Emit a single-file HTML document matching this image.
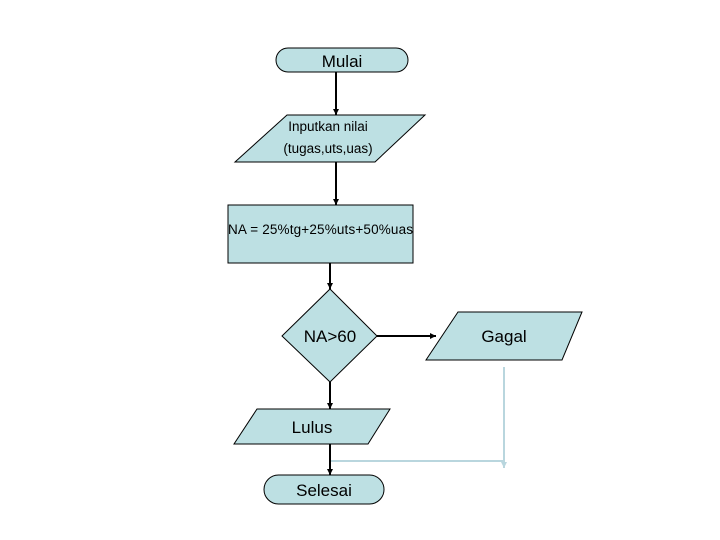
<!DOCTYPE html>
<html><head><style>body{margin:0;background:#fff}svg{display:block}</style></head><body>
<svg width="720" height="540" xmlns="http://www.w3.org/2000/svg" font-family="Liberation Sans, sans-serif">
<defs><marker id="a" markerWidth="8" markerHeight="8" refX="6" refY="3" orient="auto" markerUnits="userSpaceOnUse"><path d="M0,0 L6,3 L0,6z" fill="#000"/></marker>
<marker id="b" markerWidth="8" markerHeight="8" refX="6" refY="3" orient="auto" markerUnits="userSpaceOnUse"><path d="M0,0 L6,3 L0,6z" fill="#b9d6de"/></marker></defs>
<g fill="#bde0e3" stroke="#000" stroke-width="1">
<rect x="276" y="48" width="132" height="24" rx="12"/>
<polygon points="287,115 425,115 375,162 235,162"/>
<rect x="228" y="205" width="185" height="58"/>
<polygon points="330,289 377,336 330,382 282,336"/>
<polygon points="458,312 582,312 562,360 426,360"/>
<polygon points="257,409 390,409 368,444 234,444"/>
<rect x="264" y="475" width="120" height="29" rx="14.5"/>
</g>
<g stroke="#000" stroke-width="2" fill="none">
<line x1="336" y1="72" x2="336" y2="115" marker-end="url(#a)"/>
<line x1="336" y1="162" x2="336" y2="205" marker-end="url(#a)"/>
<line x1="330" y1="263" x2="330" y2="289" marker-end="url(#a)"/>
<line x1="377" y1="336" x2="436" y2="336" marker-end="url(#a)"/>
<line x1="330" y1="382" x2="330" y2="409" marker-end="url(#a)"/>
<line x1="330" y1="444" x2="330" y2="475" marker-end="url(#a)"/>
</g>
<g stroke="#b9d6de" stroke-width="2" fill="none">
<line x1="504" y1="367" x2="504" y2="468" marker-end="url(#b)"/>
<line x1="331" y1="461" x2="504" y2="461"/>
</g>
<g fill="#000" text-anchor="middle">
<text x="342" y="67" font-size="17">Mulai</text>
<text x="328" y="131" font-size="13.5">Inputkan nilai</text>
<text x="328" y="153" font-size="13.5">(tugas,uts,uas)</text>
<text x="228" y="234" font-size="13.5" text-anchor="start" textLength="185">NA = 25%tg+25%uts+50%uas</text>
<text x="330" y="342" font-size="17">NA&gt;60</text>
<text x="504" y="342" font-size="17">Gagal</text>
<text x="312" y="433" font-size="17">Lulus</text>
<text x="324" y="496" font-size="17">Selesai</text>
</g>
</svg>
</body></html>
